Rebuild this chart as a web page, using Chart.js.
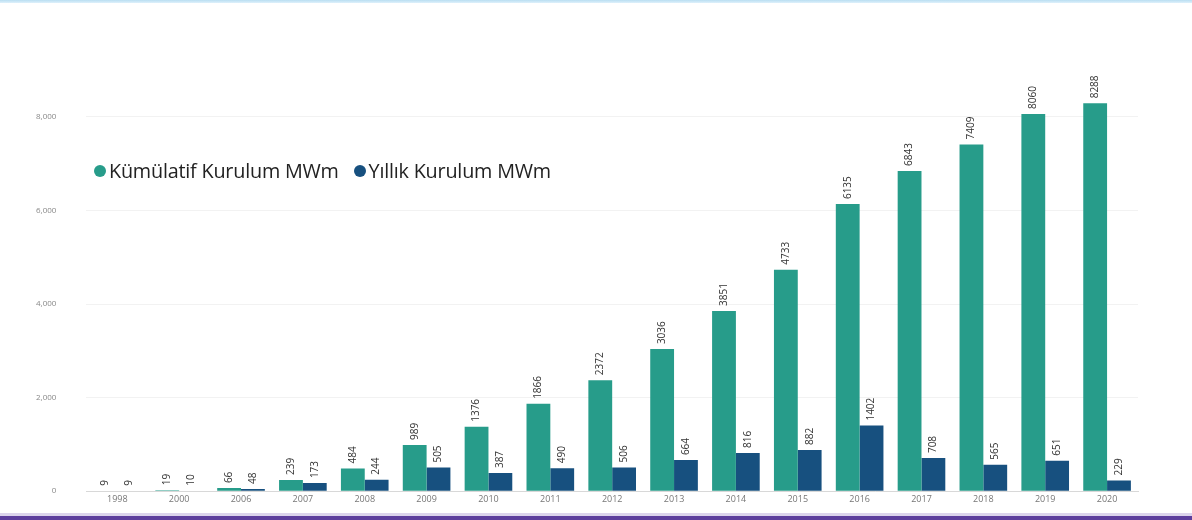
<!DOCTYPE html>
<html><head><meta charset="utf-8">
<script src="https://cdn.jsdelivr.net/npm/chart.js@4/dist/chart.umd.min.js"></script>
<style>
html,body{margin:0;padding:0;background:#fff;width:1192px;height:520px;overflow:hidden;font-family:"Open Sans",sans-serif;}
#wrap{position:absolute;left:0;top:0;width:1192px;height:520px;overflow:hidden;}
#c{position:absolute;left:0;top:6px;}
#topbar{position:absolute;left:0;top:0;width:1192px;height:3px;background:linear-gradient(#b9def2,#dff1fb);}
#botbar{position:absolute;left:0;top:513px;width:1192px;height:3px;background:#dcd4ec;}
#botbar2{position:absolute;left:0;top:516px;width:1192px;height:4px;background:#5d3e9d;}
#legend{position:absolute;left:94px;top:157px;font-size:19.8px;color:#222;white-space:nowrap;font-family:"Open Sans",sans-serif;letter-spacing:-0.2px;}
#legend span.dot{display:inline-block;width:12px;height:12px;border-radius:50%;vertical-align:middle;margin-right:3px;position:relative;top:-2px;}
</style></head>
<body><div id="wrap">
<canvas id="c" width="1192" height="520"></canvas>
<div id="topbar"></div><div id="botbar"></div><div id="botbar2"></div>
<div id="legend"><span class="dot" style="background:#279c8a"></span>Kümülatif Kurulum MWm&nbsp;&nbsp;&nbsp;<span class="dot" style="background:#17507f"></span>Yıllık Kurulum MWm</div>
</div>
<script>
const years = ["1998","2000","2006","2007","2008","2009","2010","2011","2012","2013","2014","2015","2016","2017","2018","2019","2020"];
const cumulative = [9,19,66,239,484,989,1376,1866,2372,3036,3851,4733,6135,6843,7409,8060,8288];
const annual = [9,10,48,173,244,505,387,490,506,664,816,882,1402,708,565,651,229];
const yTicks = [0,2000,4000,6000,8000];
const seriesNames = ["Kümülatif Kurulum MWm","Yıllık Kurulum MWm"];

const valueLabels = {
  id:'valueLabels',
  afterDatasetsDraw(chart){
    const ctx = chart.ctx;
    ctx.save();
    ctx.font = '10px "Open Sans", sans-serif';
    ctx.fillStyle = '#333';
    ctx.textAlign = 'left';
    ctx.textBaseline = 'middle';
    chart.data.datasets.forEach((ds,i)=>{
      const meta = chart.getDatasetMeta(i);
      meta.data.forEach((bar,j)=>{
        ctx.save();
        ctx.translate(bar.x, bar.y - 5);
        ctx.rotate(-Math.PI/2);
        ctx.fillText(String(ds.data[j]), 0, 0);
        ctx.restore();
      });
    });
    ctx.restore();
  }
};

new Chart(document.getElementById('c'), {
  type:'bar',
  data:{
    labels: years,
    datasets:[
      {label:seriesNames[0], data:cumulative, backgroundColor:'#279c8a', barPercentage:1, categoryPercentage:0.77},
      {label:seriesNames[1], data:annual, backgroundColor:'#17507f', barPercentage:1, categoryPercentage:0.77}
    ]
  },
  options:{
    responsive:false,
    animation:false,
    devicePixelRatio:1,
    layout:{padding:{left:6,right:54,top:64,bottom:3}},
    plugins:{legend:{display:false}, tooltip:{enabled:false}},
    scales:{
      x:{
        afterFit(axis){ axis.height = 20; },
        grid:{display:false,drawTicks:false,tickLength:0},
        border:{display:true,color:'#d8d8d8'},
        ticks:{color:'#777',font:{size:9,family:'"Open Sans", sans-serif'},padding:3,maxRotation:0,autoSkip:false}
      },
      y:{
        min:0,max:9000,
        afterBuildTicks(axis){ axis.ticks = yTicks.map(v=>({value:v})); },
        grid:{color:'#f2f2f2',drawTicks:false},
        border:{display:false},
        ticks:{color:'#888',font:{size:8,family:'"Open Sans", sans-serif'},padding:30,
          callback:v=>v.toLocaleString('en-US')}
      }
    }
  },
  plugins:[valueLabels]
});
</script>
</body></html>
